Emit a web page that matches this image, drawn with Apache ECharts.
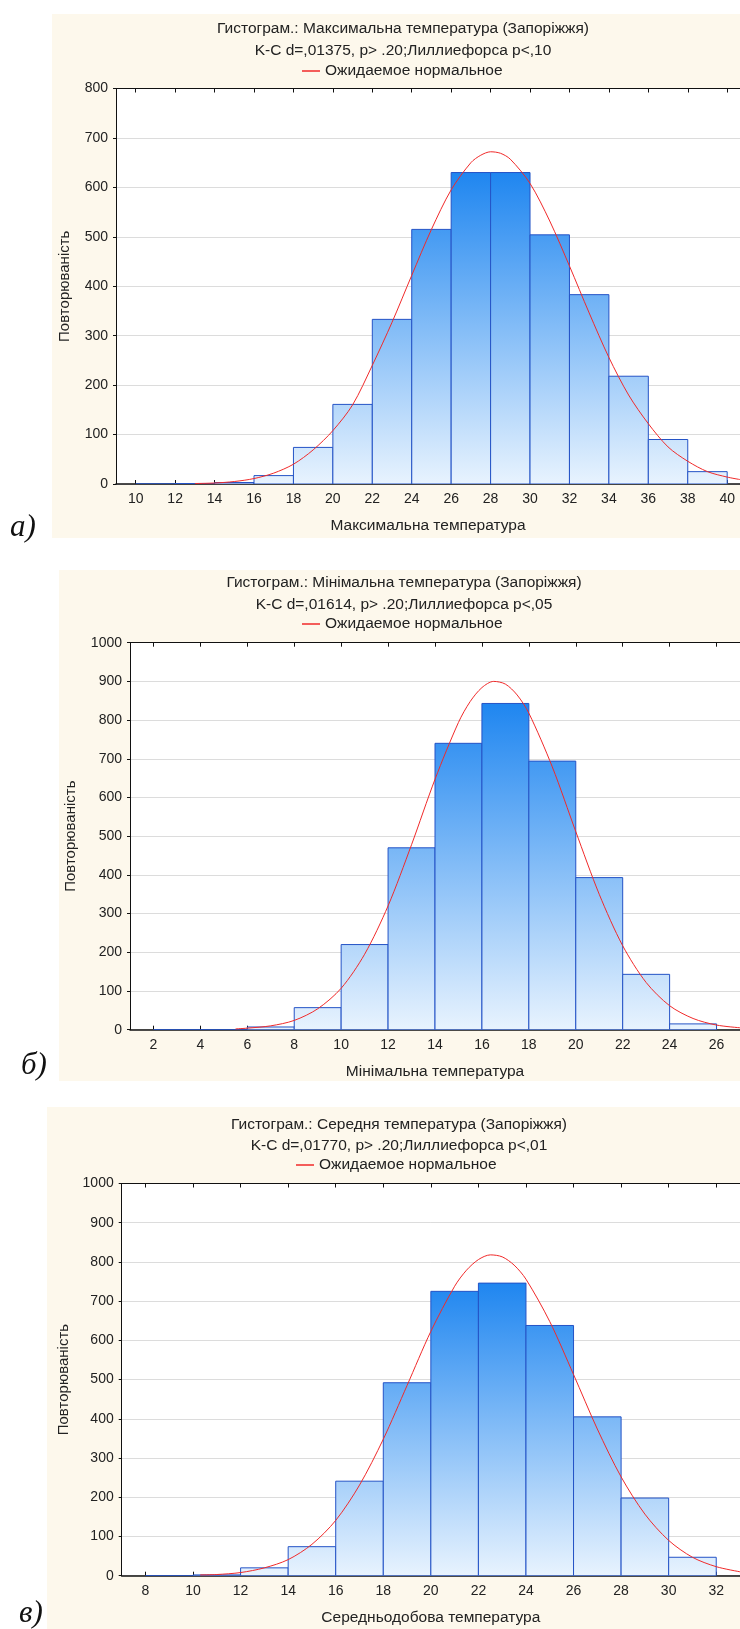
<!DOCTYPE html>
<html lang="uk">
<head>
    <meta charset="UTF-8">
    <title>Гістограми температури (Запоріжжя)</title>
    <style>
        body { margin: 0; background: #fff; overflow: hidden; }
        .panel { position: absolute; background: #fdf8ec; }
        #main { position: absolute; left: 0; top: 0; width: 740px; height: 1629px; }
    </style>
</head>
<body>
<div class="panel" style="left:52px;top:14px;width:688px;height:524px"></div>
<div class="panel" style="left:59px;top:570px;width:681px;height:511px"></div>
<div class="panel" style="left:47px;top:1107px;width:693px;height:522px"></div>
<div id="main"></div>
<script src="https://cdn.jsdelivr.net/npm/echarts@6/dist/echarts.min.js"></script>
<script>
    var FONT = 'Liberation Sans, Arial, sans-serif';
    var LEGEND_NAME = 'Ожидаемое нормальное';
    var BIN_WIDTH = 2;

    // а) максимальна температура
    var binStartA = [10, 12, 14, 16, 18, 20, 22, 24, 26, 28, 30, 32, 34, 36, 38];
    var countsA   = [0, 1, 3, 17, 74, 161, 333, 515, 630, 630, 504, 383, 218, 90, 25];
    var curveXA   = [13, 14, 15, 16, 17, 18, 19, 20, 21, 22, 23, 24, 25, 26, 27, 27.5, 28, 28.5, 29, 30, 31, 32, 33, 34, 35, 36, 37, 38, 39, 40, 40.65];
    var curveYA   = [1, 2, 5, 11, 22, 40, 69, 108, 160, 240, 327, 422, 515, 595, 650, 665, 672, 669, 657, 608, 532, 441, 346, 256, 180, 122, 75, 46, 25, 14, 9];
    var xTicksA   = [10, 12, 14, 16, 18, 20, 22, 24, 26, 28, 30, 32, 34, 36, 38, 40];

    // б) мінімальна температура
    var binStartB = [2, 4, 6, 8, 10, 12, 14, 16, 18, 20, 22, 24];
    var countsB   = [0, 0, 7, 57, 220, 470, 740, 843, 694, 393, 143, 15];
    var curveXB   = [5.5, 6, 7, 8, 9, 10, 11, 12, 13, 14, 15, 15.5, 16, 16.5, 17, 17.5, 18, 19, 20, 21, 22, 23, 24, 25, 26, 27];
    var curveYB   = [2, 4, 10, 24, 54, 107, 195, 320, 478, 647, 794, 848, 884, 900, 893, 865, 818, 679, 512, 350, 217, 122, 62, 29, 12, 5];
    var xTicksB   = [2, 4, 6, 8, 10, 12, 14, 16, 18, 20, 22, 24, 26];

    // в) середньодобова температура
    var binStartC = [8, 10, 12, 14, 16, 18, 20, 22, 24, 26, 28, 30];
    var countsC   = [0, 2, 20, 74, 241, 492, 725, 746, 638, 405, 198, 47];
    var curveXC   = [10.3, 11, 12, 13, 14, 15, 16, 17, 18, 19, 20, 21, 21.5, 22, 22.5, 23, 23.5, 24, 25, 26, 27, 28, 29, 30, 31, 32, 33];
    var curveYC   = [2, 3, 8, 20, 41, 80, 141, 231, 348, 485, 623, 738, 779, 806, 818, 813, 792, 756, 648, 513, 374, 252, 157, 90, 47, 23, 10];
    var xTicksC   = [8, 10, 12, 14, 16, 18, 20, 22, 24, 26, 28, 30, 32];

    var panels = [
        {
            title: 'Гистограм.: Максимальна температура (Запоріжжя)',
            stat: 'K-C d=,01375, p> .20;Лиллиефорса p<,10',
            xName: 'Максимальна температура', tag: 'а)',
            starts: binStartA, counts: countsA, cx: curveXA, cy: curveYA, ticks: xTicksA,
            xMin: 9, xMax: 40.65, yMax: 800,
            grid: {left: 116, top: 88.5, width: 624, height: 395.5},
            titleX: 403, titleY: 29, statY: 51, legendLeft: 302, legendTop: 63,
            yNameGap: 44, tagX: 10, tagY: 528
        },
        {
            title: 'Гистограм.: Мінімальна температура (Запоріжжя)',
            stat: 'K-C d=,01614, p> .20;Лиллиефорса p<,05',
            xName: 'Мінімальна температура', tag: 'б)',
            starts: binStartB, counts: countsB, cx: curveXB, cy: curveYB, ticks: xTicksB,
            xMin: 1, xMax: 27, yMax: 1000,
            grid: {left: 130, top: 642.7, width: 610, height: 387},
            titleX: 404, titleY: 583, statY: 605, legendLeft: 302, legendTop: 616,
            yNameGap: 52, tagX: 21, tagY: 1066
        },
        {
            title: 'Гистограм.: Середня температура (Запоріжжя)',
            stat: 'K-C d=,01770, p> .20;Лиллиефорса p<,01',
            xName: 'Середньодобова температура', tag: 'в)',
            starts: binStartC, counts: countsC, cx: curveXC, cy: curveYC, ticks: xTicksC,
            xMin: 7, xMax: 33, yMax: 1000,
            grid: {left: 121.7, top: 1183.5, width: 618.3, height: 392.2},
            titleX: 399, titleY: 1125, statY: 1146, legendLeft: 296, legendTop: 1157,
            yNameGap: 49, tagX: 19, tagY: 1614
        }
    ];

    // бари гістограми, градієнт спільний для всієї панелі
    var makeBars = function (maxVal) {
        return function (params, api) {
            var x0 = api.value(0), x1 = api.value(1), v = api.value(2);
            var pTop = api.coord([x0, v]);
            var pBot = api.coord([x1, 0]);
            var gTop = api.coord([x0, maxVal])[1];
            return {
                type: 'rect',
                shape: {x: pTop[0], y: pTop[1], width: pBot[0] - pTop[0], height: pBot[1] - pTop[1]},
                style: {
                    fill: new echarts.graphic.LinearGradient(0, gTop, 0, pBot[1], [
                        {offset: 0, color: '#1f86f0'},
                        {offset: 1, color: '#e8f3fe'}
                    ], true),
                    stroke: '#2453c6',
                    lineWidth: 1
                }
            };
        };
    };

    var option = {grid: [], xAxis: [], yAxis: [], series: [], legend: [], graphic: [], animation: false};
    var textStyle = {fontFamily: FONT, fontSize: 15.5, color: '#222'};

    panels.forEach(function (p, i) {
        option.grid.push({
            left: p.grid.left, top: p.grid.top, width: p.grid.width, height: p.grid.height,
            show: true, backgroundColor: '#fff', borderWidth: 0
        });
        option.xAxis.push({
            gridIndex: i, type: 'value', min: p.xMin, max: p.xMax, position: 'bottom',
            name: p.xName, nameLocation: 'middle', nameGap: 34, nameTextStyle: textStyle,
            axisLine: {show: true, onZero: false, lineStyle: {color: '#111', width: 1.5}},
            axisTick: {show: true, inside: true, length: 4, customValues: p.ticks, lineStyle: {color: '#111'}},
            axisLabel: {customValues: p.ticks, margin: 8, fontFamily: FONT, fontSize: 14, color: '#222'},
            splitLine: {show: false}
        });
        option.xAxis.push({
            gridIndex: i, type: 'value', min: p.xMin, max: p.xMax, position: 'top',
            axisLine: {show: true, onZero: false, lineStyle: {color: '#111', width: 1}},
            axisTick: {show: true, inside: true, length: 4, customValues: p.ticks, lineStyle: {color: '#111'}},
            axisLabel: {show: false},
            splitLine: {show: false}
        });
        option.yAxis.push({
            gridIndex: i, type: 'value', min: 0, max: p.yMax, interval: 100,
            name: 'Повторюваність', nameLocation: 'middle', nameGap: p.yNameGap,
            nameTextStyle: {fontFamily: FONT, fontSize: 15, color: '#222'},
            axisLine: {show: true, lineStyle: {color: '#111', width: 1}},
            axisTick: {show: true, length: 3, lineStyle: {color: '#111'}},
            axisLabel: {
                margin: 8, fontFamily: FONT, fontSize: 14, color: '#222',
                formatter: function (v) { return String(v); }
            },
            splitLine: {show: true, lineStyle: {color: '#dcdcdc', width: 1}}
        });

        var maxVal = Math.max.apply(null, p.counts);
        option.series.push({
            type: 'custom', xAxisIndex: 2 * i, yAxisIndex: i, clip: true,
            data: p.starts.map(function (s, k) { return [s, s + BIN_WIDTH, p.counts[k]]; }),
            encode: {x: [0, 1], y: 2},
            renderItem: makeBars(maxVal),
            z: 2
        });
        option.series.push({
            type: 'line', name: LEGEND_NAME, xAxisIndex: 2 * i, yAxisIndex: i,
            data: p.cx.map(function (x, k) { return [x, p.cy[k]]; }),
            smooth: 0.3, showSymbol: false, clip: true,
            lineStyle: {color: '#f02a2a', width: 1},
            itemStyle: {color: '#f02a2a'},
            z: 5
        });

        option.legend.push({
            data: [LEGEND_NAME], left: p.legendLeft, top: p.legendTop, padding: 0,
            icon: 'rect', itemWidth: 18, itemHeight: 1.5, selectedMode: false,
            textStyle: textStyle
        });

        option.graphic.push({
            type: 'text', x: p.titleX, y: p.titleY,
            style: {text: p.title, align: 'center', verticalAlign: 'middle', font: '15.5px ' + FONT, fill: '#222'}
        });
        option.graphic.push({
            type: 'text', x: p.titleX, y: p.statY,
            style: {text: p.stat, align: 'center', verticalAlign: 'middle', font: '15.5px ' + FONT, fill: '#222'}
        });
        option.graphic.push({
            type: 'text', x: p.tagX, y: p.tagY,
            style: {text: p.tag, align: 'left', verticalAlign: 'middle', font: 'italic 31px Liberation Serif, Times New Roman, serif', fill: '#111'}
        });
    });

    var chart = echarts.init(document.getElementById('main'));
    chart.setOption(option);
</script>
</body>
</html>
